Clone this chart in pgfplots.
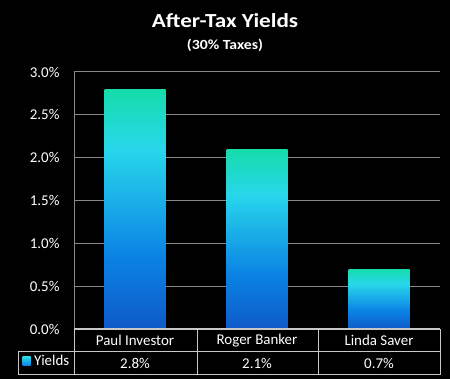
\documentclass[border=0pt]{standalone}
\usepackage{pgfplots}
\pgfplotsset{compat=1.18}
\usepackage{fontspec}
\setmainfont{Carlito}
\definecolor{gridc}{RGB}{135,135,135}
\definecolor{tabc}{RGB}{200,200,200}
\definecolor{cA}{RGB}{15,90,200}
\definecolor{cB}{RGB}{10,130,228}
\definecolor{cC}{RGB}{40,215,235}
\definecolor{cD}{RGB}{20,220,170}
\pgfdeclareverticalshading{barshade}{100bp}{color(0bp)=(cA); color(25bp)=(cA); color(40bp)=(cB); color(62.5bp)=(cC); color(75bp)=(cD); color(100bp)=(cD)}
\pgfdeclareverticalshading{legshade}{100bp}{color(0bp)=(cB); color(25bp)=(cB); color(75bp)=(cC); color(100bp)=(cC)}
\begin{document}
\begin{tikzpicture}
\fill[black] (0,0) rectangle (450bp,379bp);
\useasboundingbox (0,0) rectangle (450bp,379bp);
\node[anchor=base, white, xscale=1.16, font=\bfseries\fontsize{20}{24}\selectfont] at (225bp,351bp) {After-Tax Yields};
\node[anchor=base, white, xscale=1.13, font=\bfseries\fontsize{14}{16}\selectfont] at (225bp,329bp) {(30\% Taxes)};
\begin{axis}[
  at={(74bp,50bp)}, anchor=south west,
  scale only axis, width=366bp, height=257bp,
  xmin=-0.5, xmax=2.5, ymin=0, ymax=3,
  axis y line*=left, axis x line*=bottom,
  x axis line style={tabc, line width=1bp},
  y axis line style={gridc, line width=1bp},
  major tick length=0pt,
  ytick={0,0.5,1,1.5,2,2.5,3},
  /pgf/number format/assume math mode=true,
  yticklabel={\pgfmathprintnumber[fixed,fixed zerofill,precision=1]{\tick}\%},
  yticklabel style={xshift=-11bp},
  ymajorgrids, grid style={gridc, line width=1bp},
  tick label style={white, font=\fontsize{15}{17}\selectfont},
  xtick={0,1,2},
  xticklabels={Paul Investor,Roger Banker,Linda Saver},
  xticklabel style={anchor=center, yshift=-11.5bp},
  extra x ticks={0,1,2},
  extra x tick labels={2.8\%,2.1\%,0.7\%},
  extra x tick style={grid=none, xticklabel style={yshift=-23bp}},
  ybar, bar width=0.5,
]
\addplot[draw=none, shading=barshade, bar shift=0] coordinates {(0,2.8)};
\addplot[draw=none, shading=barshade, bar shift=0] coordinates {(1,2.1)};
\addplot[draw=none, shading=barshade, bar shift=0] coordinates {(2,0.7)};
\end{axis}
\begin{scope}[tabc, line width=1bp]
\draw (74bp,50bp) -- (440bp,50bp);
\draw (18bp,27bp) -- (440bp,27bp);
\draw (18bp,4bp) -- (440bp,4bp);
\draw (18bp,4bp) -- (18bp,27bp);
\draw (74bp,4bp) -- (74bp,50bp);
\draw (197bp,4bp) -- (197bp,50bp);
\draw (318bp,4bp) -- (318bp,50bp);
\draw (440bp,4bp) -- (440bp,50bp);
\end{scope}
\shade[shading=legshade] (22.5bp,13.5bp) rectangle (30.5bp,22bp);
\node[anchor=base west, white, inner sep=0pt, font=\fontsize{15}{17}\selectfont] at (34bp,14bp) {Yields};
\end{tikzpicture}
\end{document}
